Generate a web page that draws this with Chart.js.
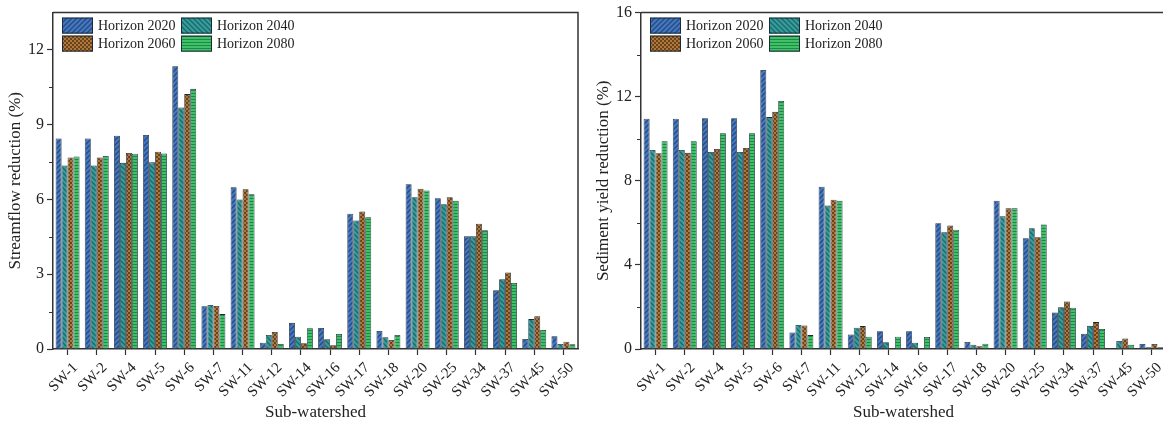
<!DOCTYPE html>
<html>
<head>
<meta charset="utf-8">
<script src="https://cdn.jsdelivr.net/npm/chart.js@4.4.0/dist/chart.umd.min.js"></script>
<style>
  html, body { margin: 0; padding: 0; background: #fff; overflow: hidden; width: 1163px; height: 425px; }
  #wrap { position: relative; width: 1163px; height: 425px; overflow: hidden; }
  canvas { position: absolute; top: 0; }
  #streamflow { left: 0; }
  #sediment { left: 588px; }
</style>
</head>
<body>
<div id="wrap">
  <canvas id="streamflow" width="585" height="425"></canvas>
  <canvas id="sediment" width="588" height="425"></canvas>
</div>
<script>
// Sub-watersheds on the x axis
const subWatersheds = ['SW-1', 'SW-2', 'SW-4', 'SW-5', 'SW-6', 'SW-7', 'SW-11', 'SW-12', 'SW-14',
  'SW-16', 'SW-17', 'SW-18', 'SW-20', 'SW-25', 'SW-34', 'SW-37', 'SW-45', 'SW-50'];
const horizons = ['Horizon 2020', 'Horizon 2040', 'Horizon 2060', 'Horizon 2080'];

// Streamflow reduction (%)
const streamflow2020 = [8.45, 8.45, 8.56, 8.59, 11.35, 1.72, 6.49, 0.25, 1.05, 0.84, 5.43, 0.72, 6.61, 6.05, 4.52, 2.36, 0.40, 0.51];
const streamflow2040 = [7.36, 7.36, 7.47, 7.49, 9.69, 1.77, 6.00, 0.56, 0.49, 0.39, 5.16, 0.47, 6.09, 5.81, 4.52, 2.80, 1.20, 0.20];
const streamflow2060 = [7.69, 7.69, 7.87, 7.92, 10.23, 1.73, 6.41, 0.68, 0.23, 0.15, 5.52, 0.36, 6.43, 6.09, 5.03, 3.07, 1.31, 0.29];
const streamflow2080 = [7.73, 7.75, 7.84, 7.85, 10.44, 1.40, 6.21, 0.20, 0.83, 0.60, 5.29, 0.56, 6.36, 5.95, 4.77, 2.65, 0.76, 0.19];

// Sediment yield reduction (%)
const sediment2020 = [10.95, 10.95, 10.98, 10.98, 13.27, 0.79, 7.72, 0.69, 0.85, 0.85, 5.98, 0.33, 7.05, 5.27, 1.74, 0.73, 0.03, 0.24];
const sediment2040 = [9.47, 9.47, 9.37, 9.37, 11.03, 1.14, 6.82, 1.01, 0.32, 0.30, 5.55, 0.20, 6.31, 5.74, 1.99, 1.10, 0.38, 0.08];
const sediment2060 = [9.31, 9.33, 9.51, 9.56, 11.28, 1.12, 7.10, 1.09, 0.05, 0.05, 5.87, 0.13, 6.69, 5.32, 2.26, 1.28, 0.50, 0.24];
const sediment2080 = [9.88, 9.88, 10.26, 10.26, 11.80, 0.66, 7.05, 0.58, 0.58, 0.57, 5.67, 0.25, 6.69, 5.92, 1.96, 0.95, 0.20, 0.08];

// Axis ranges and ticks
const streamflowMax = 13.5, streamflowStep = 3, streamflowMinor = [1.5, 4.5, 7.5, 10.5];
const sedimentMax = 16, sedimentStep = 4, sedimentMinor = [2, 6, 10, 14];

Chart.defaults.font.family = '"Liberation Serif", "Times New Roman", serif';
Chart.defaults.color = '#222';

// Fill patterns for each horizon
function makePattern(kind, bg, fg) {
  const c = document.createElement('canvas');
  const s = kind === 'checker' ? 4 : (kind === 'hline' ? 3 : 5);
  c.width = s; c.height = s;
  const g = c.getContext('2d');
  g.fillStyle = bg; g.fillRect(0, 0, s, s);
  g.strokeStyle = fg; g.fillStyle = fg; g.lineWidth = 1.3;
  if (kind === 'fwd') {
    g.beginPath();
    g.moveTo(-1, s + 1); g.lineTo(s + 1, -1);
    g.moveTo(-1, 1); g.lineTo(1, -1);
    g.moveTo(s - 1, s + 1); g.lineTo(s + 1, s - 1);
    g.stroke();
  } else if (kind === 'back') {
    g.beginPath();
    g.moveTo(-1, -1); g.lineTo(s + 1, s + 1);
    g.moveTo(s - 1, -1); g.lineTo(s + 1, 1);
    g.moveTo(-1, s - 1); g.lineTo(1, s + 1);
    g.stroke();
  } else if (kind === 'checker') {
    g.fillRect(0, 0, 2, 2); g.fillRect(2, 2, 2, 2);
  } else if (kind === 'hline') {
    g.fillRect(0, 0, s, 1);
  }
  return g.createPattern(c, 'repeat');
}

const styles = [
  { bg: makePattern('fwd', '#4678bd', '#244a86') },
  { bg: makePattern('back', '#369e9a', '#1c676c') },
  { bg: makePattern('checker', '#ad773f', '#6a4316') },
  { bg: makePattern('hline', '#40c068', '#1d8a44') }
];

// Frame, minor ticks and in-plot legend
const framePlugin = {
  id: 'frame',
  afterDatasetsDraw(chart, args, opts) {
    const { ctx, chartArea: a, scales } = chart;
    ctx.save();
    ctx.strokeStyle = '#333';
    ctx.lineWidth = 1.5;
    ctx.beginPath();
    ctx.moveTo(a.left, a.top);
    ctx.lineTo(a.right, a.top);
    ctx.lineTo(a.right, a.bottom);
    ctx.stroke();

    ctx.lineWidth = 1.2;
    ctx.beginPath();
    for (const v of opts.minor) {
      const py = Math.round(scales.y.getPixelForValue(v)) + 0.5;
      ctx.moveTo(a.left - 4, py);
      ctx.lineTo(a.left, py);
    }
    ctx.stroke();

    ctx.font = '14px "Liberation Serif", serif';
    ctx.textBaseline = 'middle';
    ctx.textAlign = 'left';
    chart.data.datasets.forEach((ds, i) => {
      const col = i % 2, row = Math.floor(i / 2);
      const bx = a.left + 9 + col * 119;
      const by = a.top + 5 + row * 18;
      ctx.fillStyle = ds.backgroundColor;
      ctx.fillRect(bx, by, 31, 16);
      ctx.strokeStyle = '#1c2a38';
      ctx.lineWidth = 1;
      ctx.strokeRect(bx + 0.5, by + 0.5, 30, 15);
      ctx.fillStyle = '#222';
      ctx.fillText(ds.label, bx + 36, by + 8.5);
    });
    ctx.restore();
  }
};

function buildChart(id, series, yTitle, maxVal, step, minor) {
  return new Chart(document.getElementById(id), {
    type: 'bar',
    data: {
      labels: subWatersheds,
      datasets: series.map((d, i) => ({
        label: horizons[i],
        data: d,
        backgroundColor: styles[i].bg,
        borderColor: '#1c2a38',
        borderWidth: 0.8,
        categoryPercentage: 0.82,
        barPercentage: 1.0
      }))
    },
    options: {
      responsive: false,
      animation: false,
      devicePixelRatio: 1,
      layout: { padding: { left: 0, right: id === 'streamflow' ? 7 : 10, top: id === 'streamflow' ? 12 : 11, bottom: 0 } },
      plugins: {
        legend: { display: false },
        tooltip: { enabled: false },
        frame: { minor: minor }
      },
      scales: {
        x: {
          offset: true,
          afterFit(scale) { scale.height = 76; },
          grid: { offset: false, drawOnChartArea: false, drawTicks: true, tickLength: 6, tickColor: '#333', tickWidth: 1.2 },
          border: { display: true, color: '#333', width: 1.5 },
          ticks: { autoSkip: false, minRotation: 45, maxRotation: 45, padding: 4, labelOffset: 8, font: { size: 15 }, color: '#222' },
          title: { display: true, text: 'Sub-watershed', font: { size: 17 }, color: '#222', padding: { top: 0, bottom: 2 } }
        },
        y: {
          min: 0,
          max: maxVal,
          afterFit(scale) { scale.width = 53; },
          grid: { drawOnChartArea: false, drawTicks: true, tickLength: 6, tickColor: '#333', tickWidth: 1.2 },
          border: { display: true, color: '#333', width: 1.5 },
          ticks: { stepSize: step, includeBounds: false, padding: 3, font: { size: 16 }, color: '#222' },
          title: { display: true, text: yTitle, font: { size: 17 }, color: '#222', padding: { top: 5, bottom: 0 } }
        }
      }
    },
    plugins: [framePlugin]
  });
}

buildChart('streamflow', [streamflow2020, streamflow2040, streamflow2060, streamflow2080],
  'Streamflow reduction (%)', streamflowMax, streamflowStep, streamflowMinor);
buildChart('sediment', [sediment2020, sediment2040, sediment2060, sediment2080],
  'Sediment yield reduction (%)', sedimentMax, sedimentStep, sedimentMinor);
</script>
</body>
</html>
